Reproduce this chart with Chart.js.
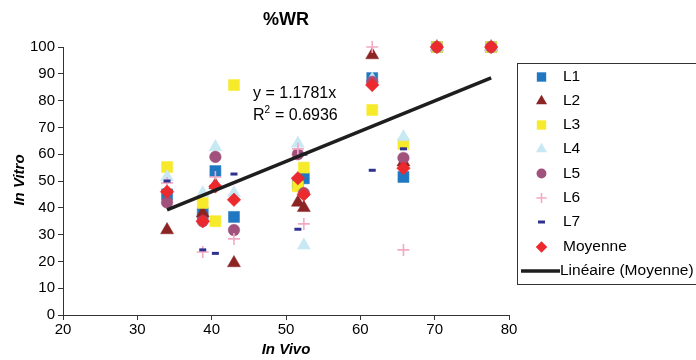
<!DOCTYPE html>
<html>
<head>
<meta charset="utf-8">
<script src="https://cdn.jsdelivr.net/npm/chart.js@4/dist/chart.umd.min.js"></script>
<style>
  html, body { margin: 0; padding: 0; background: #fff; }
  #wrap { width: 696px; height: 360px; position: relative; }
</style>
</head>
<body>
<div id="wrap"><canvas id="myChart" width="696" height="360"></canvas></div>
<script>
// In Vivo values (x) shared by all series
const xVivo = [34.0, 38.8, 40.5, 43.0, 51.6, 52.4, 61.6, 65.8, 70.3, 77.6];

// In Vitro values per line
const L1 = [45, 38, 53.7, 36.6, 49, 51, 88.4, 51.5, 100, 100];
const L2 = [31.7, 38, 48.5, 19.4, 42, 40, 97, 57, 100, 100];
const L3 = [55.2, 41.8, 35, 85.8, 48, 55, 76.5, 63.8, 100, 100];
const L4 = [51.5, 45.5, 62.7, 45.5, 64, 26, 88, 66.4, 100, 100];
const L5 = [42, 35, 59, 31.7, 60, 45.5, 87, 58.6, 100, 100];
const L6 = [49.3, 23.5, 51.5, 28.4, 62, 34, 100, 24.3, 100, 100];
const L7 = [50, 24.3, 23, 52.6, 32, 60, 54, 62, 100, 100];
const moyenne = [46, 35, 48, 43, 51, 45, 85.8, 54.8, 100, 100];

// trendline end points as drawn
const trendX = [34.0, 77.6];
const trendY = [39.2, 88.5];

const xTicks = [20, 30, 40, 50, 60, 70, 80];
const yTicks = [0, 10, 20, 30, 40, 50, 60, 70, 80, 90, 100];

const FONT = "'Liberation Sans', Arial, sans-serif";

function pts(ys) {
    return xVivo.map((x, i) => ({ x: x, y: ys[i] }));
}

const series = [
    { label: 'L1', data: L1, color: '#2178c2', style: 'rect', r: 7.8 },
    { label: 'L2', data: L2, color: '#8c2424', style: 'triangle', r: 7.5 },
    { label: 'L3', data: L3, color: '#f7ea2a', style: 'rect', r: 7.8 },
    { label: 'L4', data: L4, color: '#c8e8f3', style: 'triangle', r: 7.5 },
    { label: 'L5', data: L5, color: '#a0517c', style: 'circle', r: 5.8 },
    { label: 'L6', data: L6, color: '#f3a9c4', style: 'cross', r: 6 },
    { label: 'L7', data: L7, color: '#2e3190', style: 'line', r: 3.5 },
    { label: 'Moyenne', data: moyenne, color: '#ec2a2e', style: 'rectRot', r: 6.8 }
];

let datasets = series.map((s, i) => ({
    label: s.label,
    data: pts(s.data),
    pointStyle: s.style,
    pointRadius: s.r,
    pointHoverRadius: s.r,
    backgroundColor: s.color,
    borderColor: s.color,
    borderWidth: s.style == 'cross' ? 1.6 : (s.style == 'line' ? 3 : 0.5),
    showLine: false,
    clip: false,
    order: series.length - i
}));

datasets.push({
    label: 'Linéaire (Moyenne)',
    data: trendX.map((x, i) => ({ x: x, y: trendY[i] })),
    showLine: true,
    pointRadius: 0,
    borderColor: '#1e1e1e',
    backgroundColor: '#1e1e1e',
    borderWidth: 3.5,
    clip: false,
    order: 0
});

function marker(ctx, s, x, y) {
    let r = s.r * 0.85;
    ctx.save();
    ctx.fillStyle = s.color;
    ctx.strokeStyle = s.color;
    ctx.beginPath();
    if (s.style == 'rect') {
        let h = r * Math.SQRT1_2;
        ctx.rect(x - h, y - h, 2 * h, 2 * h);
        ctx.fill();
    } else if (s.style == 'triangle') {
        ctx.moveTo(x, y - r);
        ctx.lineTo(x + r * 0.866, y + r * 0.5);
        ctx.lineTo(x - r * 0.866, y + r * 0.5);
        ctx.closePath();
        ctx.fill();
    } else if (s.style == 'circle') {
        ctx.arc(x, y, r, 0, Math.PI * 2);
        ctx.fill();
    } else if (s.style == 'cross') {
        ctx.lineWidth = 1.6;
        ctx.moveTo(x - r, y); ctx.lineTo(x + r, y);
        ctx.moveTo(x, y - r); ctx.lineTo(x, y + r);
        ctx.stroke();
    } else if (s.style == 'line') {
        ctx.lineWidth = 3;
        ctx.moveTo(x - 3.5, y); ctx.lineTo(x + 3.5, y);
        ctx.stroke();
    } else if (s.style == 'rectRot') {
        ctx.moveTo(x, y - r); ctx.lineTo(x + r, y);
        ctx.lineTo(x, y + r); ctx.lineTo(x - r, y);
        ctx.closePath();
        ctx.fill();
    }
    ctx.restore();
}

const textPlugin = {
    id: 'texts',
    afterDraw(chart) {
        const ctx = chart.ctx;
        const area = chart.chartArea;
        ctx.save();
        ctx.fillStyle = '#000';

        // title
        ctx.font = 'bold 18px ' + FONT;
        ctx.textAlign = 'center';
        ctx.textBaseline = 'middle';
        ctx.fillText('%WR', (area.left + area.right) / 2, 20);

        // axis titles
        ctx.font = 'italic bold 15px ' + FONT;
        ctx.fillText('In Vivo', (area.left + area.right) / 2, 350);
        ctx.save();
        ctx.translate(20, 180);
        ctx.rotate(-Math.PI / 2);
        ctx.fillText('In Vitro', 0, 0);
        ctx.restore();

        // equation
        ctx.font = '16px ' + FONT;
        ctx.textAlign = 'left';
        ctx.fillText('y = 1.1781x', 253, 94);
        ctx.fillText('R', 253, 116);
        let wR = ctx.measureText('R').width;
        ctx.font = '10px ' + FONT;
        ctx.fillText('2', 253 + wR, 110);
        ctx.font = '16px ' + FONT;
        ctx.fillText(' = 0.6936', 253 + wR + 6, 116);

        // legend
        ctx.font = '15.5px ' + FONT;
        ctx.strokeStyle = '#333';
        ctx.lineWidth = 1;
        ctx.strokeRect(517.5, 63.5, 190, 221);
        let rowY = [77, 101, 125, 149, 173.5, 198, 222, 247, 271];
        series.forEach((s, i) => {
            marker(ctx, s, 541.5, rowY[i]);
            ctx.fillStyle = '#000';
            ctx.fillText(s.label, 563, rowY[i]);
        });
        ctx.beginPath();
        ctx.strokeStyle = '#1e1e1e';
        ctx.lineWidth = 3.5;
        ctx.moveTo(521, rowY[8]);
        ctx.lineTo(560, rowY[8]);
        ctx.stroke();
        ctx.fillStyle = '#000';
        ctx.fillText('Linéaire (Moyenne)', 560, rowY[8]);
        ctx.restore();
    }
};

const myChart = new Chart(document.getElementById('myChart'), {
    type: 'scatter',
    data: { datasets: datasets },
    options: {
        responsive: false,
        animation: false,
        devicePixelRatio: 1,
        layout: { padding: { left: 0, top: 47, right: 187, bottom: 0 } },
        plugins: {
            legend: { display: false },
            tooltip: { enabled: false },
            title: { display: false }
        },
        scales: {
            x: {
                type: 'linear',
                min: 20,
                max: 80,
                afterFit: (scale) => { scale.height = 45; },
                afterBuildTicks: (scale) => { scale.ticks = xTicks.map(v => ({ value: v })); },
                ticks: { color: '#000', font: { family: FONT, size: 15 }, padding: 1 },
                grid: { display: true, drawOnChartArea: false, drawTicks: true, tickLength: 5, color: '#333' },
                border: { display: true, color: '#333', width: 1 }
            },
            y: {
                min: 0,
                max: 100,
                afterFit: (scale) => { scale.width = 63; },
                afterBuildTicks: (scale) => { scale.ticks = yTicks.map(v => ({ value: v })); },
                ticks: { color: '#000', font: { family: FONT, size: 15 }, padding: 3 },
                grid: { display: true, drawOnChartArea: false, drawTicks: true, tickLength: 5, color: '#333' },
                border: { display: true, color: '#333', width: 1 }
            }
        }
    },
    plugins: [textPlugin]
});
</script>
</body>
</html>
